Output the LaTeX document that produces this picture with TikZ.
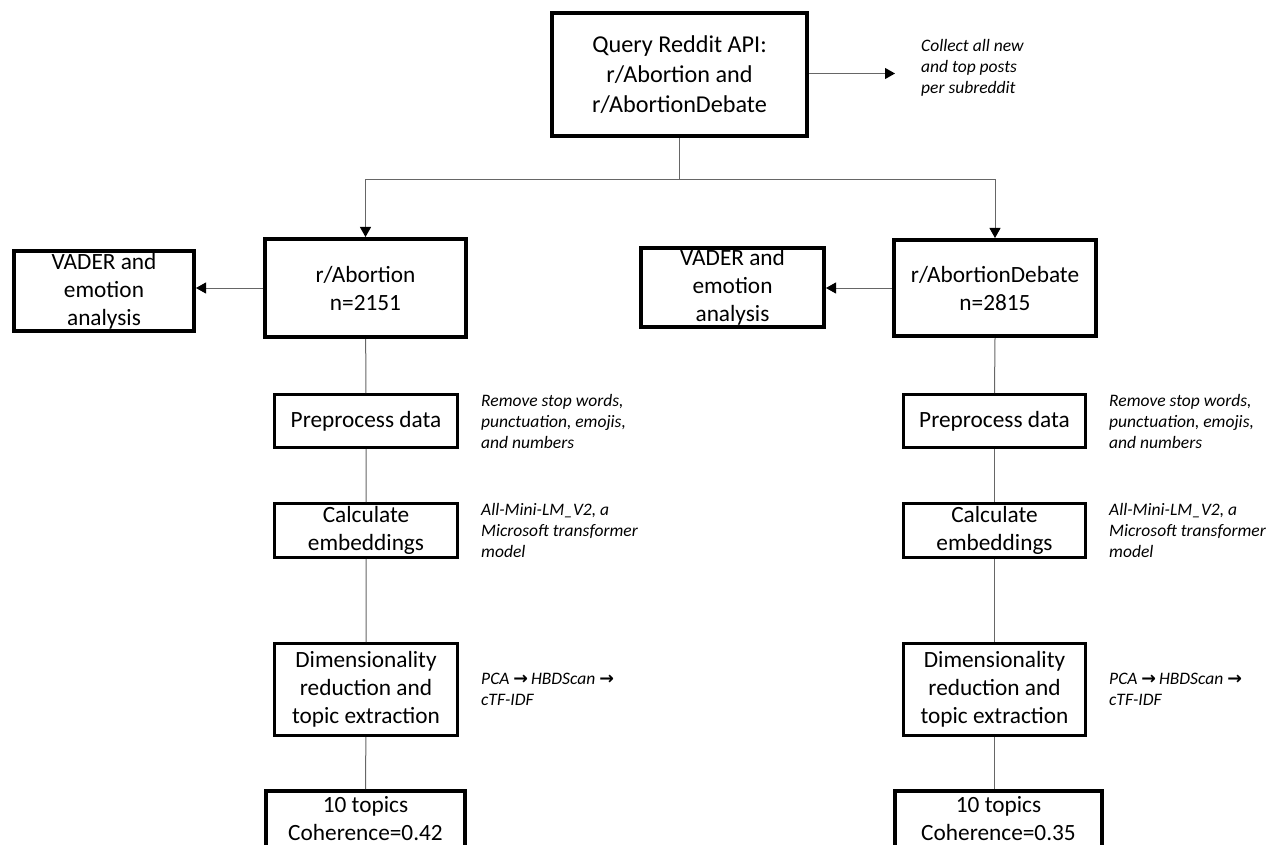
\documentclass[tikz,border=0pt]{standalone}
\usepackage{fontspec}
\setmainfont{Carlito}
\newfontfamily\arrowfont{DejaVu Sans}
\usetikzlibrary{arrows.meta}
\usetikzlibrary{positioning}

\begin{document}
\begin{tikzpicture}[x=1pt, y=-1pt, >={Triangle[length=10pt, width=11pt, color=black]},
  box/.style={draw, line width=4pt, align=center, inner sep=0pt, font=\fontsize{23.3}{28}\selectfont},
  topbox/.style={box, font=\fontsize{24.2}{30}\selectfont},
  stepbox/.style={box, line width=3pt},
  note/.style={align=left, inner sep=0pt, font=\fontsize{17.5}{21}\selectfont\itshape},
  link/.style={draw=black!60, line width=1pt}]
	\clip (0,0) rectangle (1277,845);
	% query
	\node[topbox, minimum width=255pt, minimum height=123pt] (query) at (679.5,75) {Query Reddit API:\\r/Abortion and\\r/AbortionDebate};
	\coordinate (collectend) at (895,73.5);
	\node[note, right=26pt of collectend, yshift=6pt] (collect) {Collect all new\\and top posts\\per subreddit};
	% subreddits
	\node[box, minimum width=201pt, minimum height=98pt] (abort) at (365.5,288) {r/Abortion\\n=2151};
	\node[box, minimum width=202pt, minimum height=96pt] (debate) at (995,288) {r/AbortionDebate\\n=2815};
	\node[box, minimum width=180pt, minimum height=80pt] (vaderA) at (104,291) {VADER and\\emotion\\analysis};
	\node[box, minimum width=183pt, minimum height=79pt] (vaderB) at (732.5,287.5) {VADER and\\emotion\\analysis};
	% left column
	\node[stepbox, minimum width=183pt, minimum height=53pt] (prepA) at (366,421) {Preprocess data};
	\node[stepbox, minimum width=183pt, minimum height=54pt] (calcA) at (366,530.5) {Calculate\\embeddings};
	\node[stepbox, minimum width=183pt, minimum height=92pt] (dimA) at (366,689.5) {Dimensionality\\reduction and\\topic extraction};
	\node[box, minimum width=199pt, minimum height=56pt] (topicA) at (365.5,819) {10 topics\\Coherence=0.42};
	% right column
	\node[stepbox, minimum width=182pt, minimum height=53pt] (prepB) at (994.5,421) {Preprocess data};
	\node[stepbox, minimum width=182pt, minimum height=54pt] (calcB) at (994.5,530.5) {Calculate\\embeddings};
	\node[stepbox, minimum width=182pt, minimum height=92pt] (dimB) at (994.5,689.5) {Dimensionality\\reduction and\\topic extraction};
	\node[box, minimum width=207pt, minimum height=56pt] (topicB) at (998.5,819) {10 topics\\Coherence=0.35};
	% notes
	\node[note, right=22pt of prepA] (noteprepA) {Remove stop words,\\punctuation, emojis,\\and numbers};
	\node[note, right=22pt of calcA] (notecalcA) {All-Mini-LM\_V2, a\\Microsoft transformer\\model};
	\node[note, right=22pt of dimA] (notedimA) {PCA {\arrowfont\bfseries→}\,HBDScan {\arrowfont\bfseries→}\\cTF-IDF};
	\node[note, right=22pt of prepB] (noteprepB) {Remove stop words,\\punctuation, emojis,\\and numbers};
	\node[note, right=22pt of calcB] (notecalcB) {All-Mini-LM\_V2, a\\Microsoft transformer\\model};
	\node[note, right=22pt of dimB] (notedimB) {PCA {\arrowfont\bfseries→}\,HBDScan {\arrowfont\bfseries→}\\cTF-IDF};
	% connectors
	\coordinate (split) at (679.5,180);
	\draw[link, ->] (query.east |- collectend) -- (collectend);
	\draw[link] (query.south) -- (split);
	\draw[link, ->] (split) -| (abort.north);
	\draw[link, ->] (split) -| (debate.north);
	\draw[link, ->] (abort.west) -- (abort.west -| vaderA.east);
	\draw[link, ->] (debate.west) -- (debate.west -| vaderB.east);
	\draw[link] (abort) -- (prepA) -- (calcA) -- (dimA) -- (topicA);
	\draw[link] (debate.south) -- (prepB.north);
	\draw[link] (prepB) -- (calcB) -- (dimB) -- (topicB.north -| dimB.south);
\end{tikzpicture}
\end{document}
